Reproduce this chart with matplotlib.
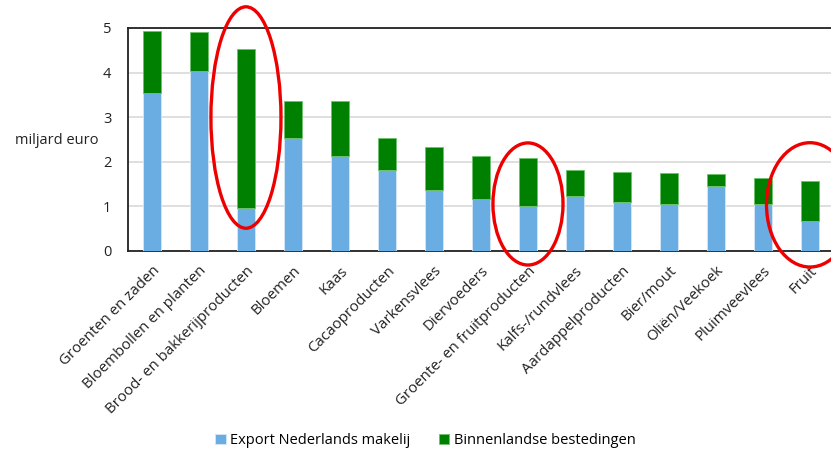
import numpy as np
import matplotlib.pyplot as plt
from matplotlib.patches import Ellipse

# productgroepen en waarden (miljard euro)
categorieen = ["Groenten en zaden", "Bloembollen en planten", "Brood- en bakkerijproducten",
               "Bloemen", "Kaas", "Cacaoproducten", "Varkensvlees", "Diervoeders",
               "Groente- en fruitproducten", "Kalfs-/rundvlees", "Aardappelproducten",
               "Bier/mout", "Oliën/Veekoek", "Pluimveevlees", "Fruit"]
export_nl = [3.54, 4.04, 0.97, 2.53, 2.13, 1.82, 1.36, 1.16, 1.01, 1.24, 1.09, 1.05, 1.45, 1.06, 0.67]
totaal = [4.94, 4.91, 4.53, 3.37, 3.36, 2.53, 2.33, 2.12, 2.08, 1.81, 1.76, 1.75, 1.72, 1.63, 1.57]
binnenland = [t - e for t, e in zip(totaal, export_nl)]

plt.rcParams['font.family'] = ['Open Sans', 'DejaVu Sans']

fig = plt.figure(figsize=(8.31, 4.51), dpi=100)
ax = fig.add_axes([0.154, 0.444, 0.849, 0.494])

x = np.arange(len(categorieen))
ax.bar(x, export_nl, width=0.4, color="#6aade2", edgecolor="#d6e8f7", linewidth=0.6,
       label="Export Nederlands makelij", zorder=3)
ax.bar(x, binnenland, bottom=export_nl, width=0.4, color="#008000", edgecolor="#6cc26c",
       linewidth=0.6, label="Binnenlandse bestedingen", zorder=3)

ax.set_xlim(-0.51, 14.5)
ax.set_ylim(0, 5)
ax.set_yticks([0, 1, 2, 3, 4, 5])
ax.yaxis.grid(True, color="#d9d9d9", linewidth=1.2, zorder=0)
ax.tick_params(axis='both', length=0, labelsize=10.5, colors="#222222")
ax.tick_params(axis='y', pad=12)
ax.tick_params(axis='x', pad=9)
ax.set_xticks(x)
ax.set_xticklabels(categorieen, rotation=45, ha='right', rotation_mode='anchor', fontsize=10.8)
for s in ['left', 'top', 'bottom']:
    ax.spines[s].set_color("#222222")
    ax.spines[s].set_linewidth(1.3)
ax.spines['right'].set_visible(False)

fig.text(0.018, 0.688, "miljard euro", fontsize=10.5, color="#222222", va='center', ha='left')

# rode ellipsen rond de omcirkelde staven
ellipsen = [(2, 2.99, 1.49, 4.97), (8, 1.05, 1.49, 2.74), (14, 1.03, 1.85, 2.79)]
for i, yc, w, h in ellipsen:
    ax.add_patch(Ellipse((x[i], yc), w, h, fill=False, edgecolor="#ee0000",
                         linewidth=2.4, clip_on=False, zorder=5))

fig.legend(loc='center', bbox_to_anchor=(0.512, 0.023), ncol=2, frameon=False,
           fontsize=10.5, handlelength=0.7, handleheight=0.7, handletextpad=0.3,
           columnspacing=2.0)

fig.savefig("out.png", dpi=100)
